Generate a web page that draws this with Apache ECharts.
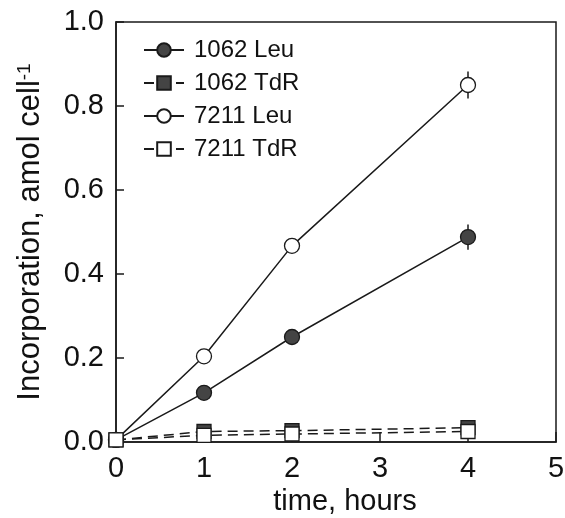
<!DOCTYPE html>
<html>
<head>
<meta charset="utf-8">
<script src="https://cdn.jsdelivr.net/npm/echarts@6/dist/echarts.min.js"></script>
<style>
html,body{margin:0;padding:0;background:#fff;}
#chart{width:565px;height:518px;}
</style>
</head>
<body>
<div id="chart"></div>
<script>
var hours = [0, 1, 2, 4];
var leu1062 = [0.005, 0.117, 0.25, 0.488];
var tdr1062 = [0.005, 0.025, 0.027, 0.034];
var leu7211 = [0.005, 0.204, 0.467, 0.85];
var tdr7211 = [0.005, 0.016, 0.019, 0.025];
var leu1062Err = [0, 0, 0, 0.03];
var leu7211Err = [0, 0, 0, 0.032];
var seriesNames = ['1062 Leu', '1062 TdR', '7211 Leu', '7211 TdR'];
var xTicks = [0, 1, 2, 3, 4, 5];
var yTicks = [0, 0.2, 0.4, 0.6, 0.8, 1.0];

var FONT = 'Liberation Sans, Arial, sans-serif';
function pairs(ys) { return hours.map(function (h, i) { return [h, ys[i]]; }); }
function errData(ys, es) { return hours.map(function (h, i) { return [h, ys[i], es[i]]; }); }

function errSeries(ys, es) {
  return {
    type: 'custom',
    data: errData(ys, es),
    z: 1,
    silent: true,
    renderItem: function (params, api) {
      var x = api.value(0), y = api.value(1), e = api.value(2);
      if (!e) return null;
      var p1 = api.coord([x, y - e]);
      var p2 = api.coord([x, y + e]);
      return {
        type: 'line',
        shape: { x1: p1[0], y1: p1[1], x2: p2[0], y2: p2[1] },
        style: { stroke: '#1a1a1a', lineWidth: 1.5 }
      };
    }
  };
}

function lineSeries(name, ys, symbol, fill, dashed) {
  return {
    name: name,
    type: 'line',
    data: pairs(ys),
    symbol: symbol,
    symbolSize: symbol === 'rect' ? 14 : 15,
    showAllSymbol: true,
    z: 3,
    lineStyle: { color: '#1a1a1a', width: 1.5, type: dashed ? [10, 6] : 'solid' },
    itemStyle: { color: fill, borderColor: '#1a1a1a', borderWidth: 1.3 },
    emphasis: { disabled: true }
  };
}

var chart = echarts.init(document.getElementById('chart'), null, { renderer: 'canvas' });
chart.setOption({
  animation: false,
  backgroundColor: '#ffffff',
  textStyle: { fontFamily: FONT },
  grid: { left: 116, top: 22, right: 9, bottom: 76, show: true, borderColor: '#1a1a1a', borderWidth: 1.5, outerBoundsMode: 'none', containLabel: false },
  legend: {
    data: seriesNames,
    orient: 'vertical',
    left: 138,
    top: 33,
    itemWidth: 40,
    itemHeight: 17,
    itemGap: 9,
    selectedMode: false,
    textStyle: { fontSize: 24, color: '#111', fontFamily: FONT, padding: [0, 0, 0, 5] }
  },
  xAxis: {
    type: 'value',
    min: xTicks[0],
    max: xTicks[xTicks.length - 1],
    interval: 1,
    name: 'time, hours',
    nameLocation: 'middle',
    nameGap: 42,
    nameTextStyle: { fontSize: 29, color: '#111', fontFamily: FONT, padding: [0, 0, 0, 18] },
    axisLine: { lineStyle: { color: '#1a1a1a', width: 1.5 } },
    axisTick: { inside: true, length: 10, lineStyle: { color: '#1a1a1a', width: 1.5 } },
    axisLabel: { fontSize: 29, color: '#111', margin: 12, fontFamily: FONT },
    splitLine: { show: false }
  },
  yAxis: {
    type: 'value',
    min: yTicks[0],
    max: yTicks[yTicks.length - 1],
    interval: 0.2,
    name: 'Incorporation, amol cell{sup|-1}',
    nameLocation: 'middle',
    nameGap: 70,
    nameTextStyle: {
      fontSize: 31, color: '#111', fontFamily: FONT,
      rich: { sup: { fontSize: 19, color: '#111', fontFamily: FONT, verticalAlign: 'top' } }
    },
    axisLine: { lineStyle: { color: '#1a1a1a', width: 1.5 } },
    axisTick: { inside: true, length: 8, lineStyle: { color: '#1a1a1a', width: 1.5 } },
    axisLabel: { fontSize: 29, color: '#111', margin: 12, fontFamily: FONT, formatter: function (v) { return v.toFixed(1); } },
    splitLine: { show: false }
  },
  series: [
    errSeries(leu1062, leu1062Err),
    errSeries(leu7211, leu7211Err),
    lineSeries(seriesNames[0], leu1062, 'circle', '#444444', false),
    lineSeries(seriesNames[1], tdr1062, 'rect', '#444444', true),
    lineSeries(seriesNames[2], leu7211, 'circle', '#ffffff', false),
    lineSeries(seriesNames[3], tdr7211, 'rect', '#ffffff', true)
  ]
});
</script>
</body>
</html>
